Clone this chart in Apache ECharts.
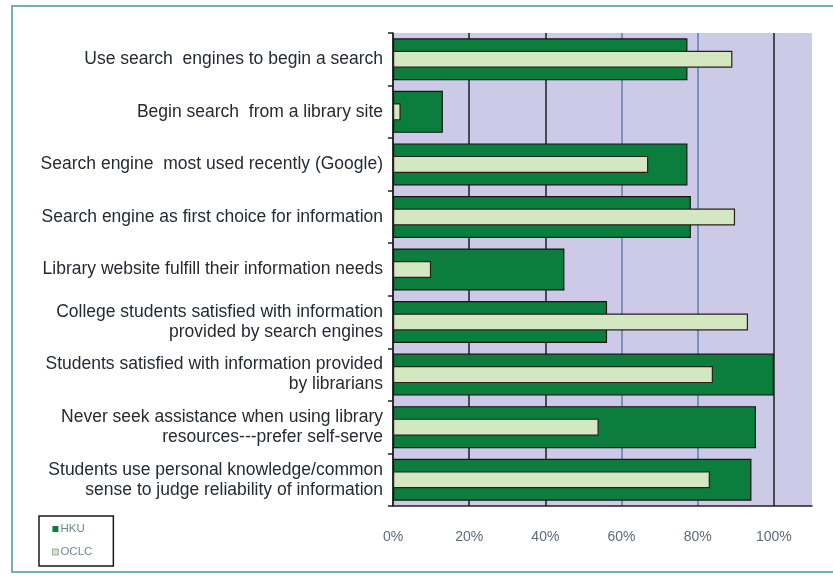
<!DOCTYPE html>
<html>
<head>
<meta charset="utf-8">
<script src="https://cdn.jsdelivr.net/npm/echarts@6/dist/echarts.min.js"></script>
<style>
html,body{margin:0;padding:0;background:#fff;}
#c{width:833px;height:577px;}
</style>
</head>
<body>
<div id="c"></div>
<script>
const categories = [
  "Use search  engines to begin a search",
  "Begin search  from a library site",
  "Search engine  most used recently (Google)",
  "Search engine as first choice for information",
  "Library website fulfill their information needs",
  "College students satisfied with information\nprovided by search engines",
  "Students satisfied with information provided\nby librarians",
  "Never seek assistance when using library\nresources---prefer self-serve",
  "Students use personal knowledge/common\nsense to judge reliability of information"
];
const hkuValues  = [77.3, 13.1, 77.3, 78.2, 45.0, 56.2, 100, 95.3, 94.1];
const oclcValues = [89.1, 2.0, 67.0, 89.8, 10.0, 93.2, 84.0, 54.0, 83.2];
const xTicks = [0, 20, 40, 60, 80, 100];

const chart = echarts.init(document.getElementById('c'), null, {renderer: 'canvas'});
const option = {
  backgroundColor: '#ffffff',
  animation: false,
  graphic: [
    {type: 'rect', shape: {x: 12, y: 6, width: 830, height: 566},
     style: {fill: 'none', stroke: '#78aebb', lineWidth: 2}, z: -1}
  ],
  grid: {left: 393, top: 33, right: 21, bottom: 71, show: true, backgroundColor: '#cccae6', borderWidth: 0},
  legend: {
    orient: 'vertical', left: 39, top: 516,
    data: [
      {name: 'HKU', itemStyle: {borderWidth: 0}},
      {name: 'OCLC', itemStyle: {borderColor: '#8a9a8a', borderWidth: 0.8}}
    ],
    itemWidth: 6, itemHeight: 6, itemGap: 11,
    padding: [7, 21, 8, 13],
    borderColor: '#1a1a1a', borderWidth: 1.5,
    textStyle: {fontFamily: 'Liberation Sans, Arial', fontSize: 11.5, color: '#6e8a90', padding: [0,0,0,-3]},
    icon: 'rect'
  },
  xAxis: {
    type: 'value', min: 0, max: 110, interval: 20,
    axisLine: {show: true, lineStyle: {color: '#222', width: 1.5}},
    axisTick: {show: false},
    axisLabel: {
      customValues: xTicks,
      formatter: v => (v > 100 ? '' : v + '%'),
      fontFamily: 'Liberation Sans, Arial', fontSize: 14, color: '#5d6b78', margin: 24
    },
    splitLine: {show: true, lineStyle: {
      color: ['#222', '#1e1e1e', '#1e1e1e', '#5d7fae', '#5d7fae', '#1e1e1e', 'rgba(0,0,0,0)'],
      width: 1.5}}
  },
  yAxis: [
    {
      type: 'category', data: categories, inverse: true,
      axisLine: {show: true, lineStyle: {color: '#222', width: 1.5}},
      axisTick: {show: true, length: 5, lineStyle: {color: '#222', width: 1.5}},
      axisLabel: {fontFamily: 'Liberation Sans, Arial', fontSize: 17.5, lineHeight: 20, color: '#252a33', margin: 10, align: 'right'},
      splitLine: {show: false}
    },
    {
      type: 'category', data: categories, inverse: true, show: false
    }
  ],
  series: [
    {
      name: 'HKU', type: 'bar', data: hkuValues, yAxisIndex: 0, barWidth: 42,
      itemStyle: {color: '#0b7d3c', borderColor: '#151515', borderWidth: 1.2}
    },
    {
      name: 'OCLC', type: 'bar', data: oclcValues, yAxisIndex: 1, barWidth: 17,
      itemStyle: {color: '#d3e7c1', borderColor: '#2a2020', borderWidth: 1.2}
    }
  ]
};
chart.setOption(option);
</script>
</body>
</html>
